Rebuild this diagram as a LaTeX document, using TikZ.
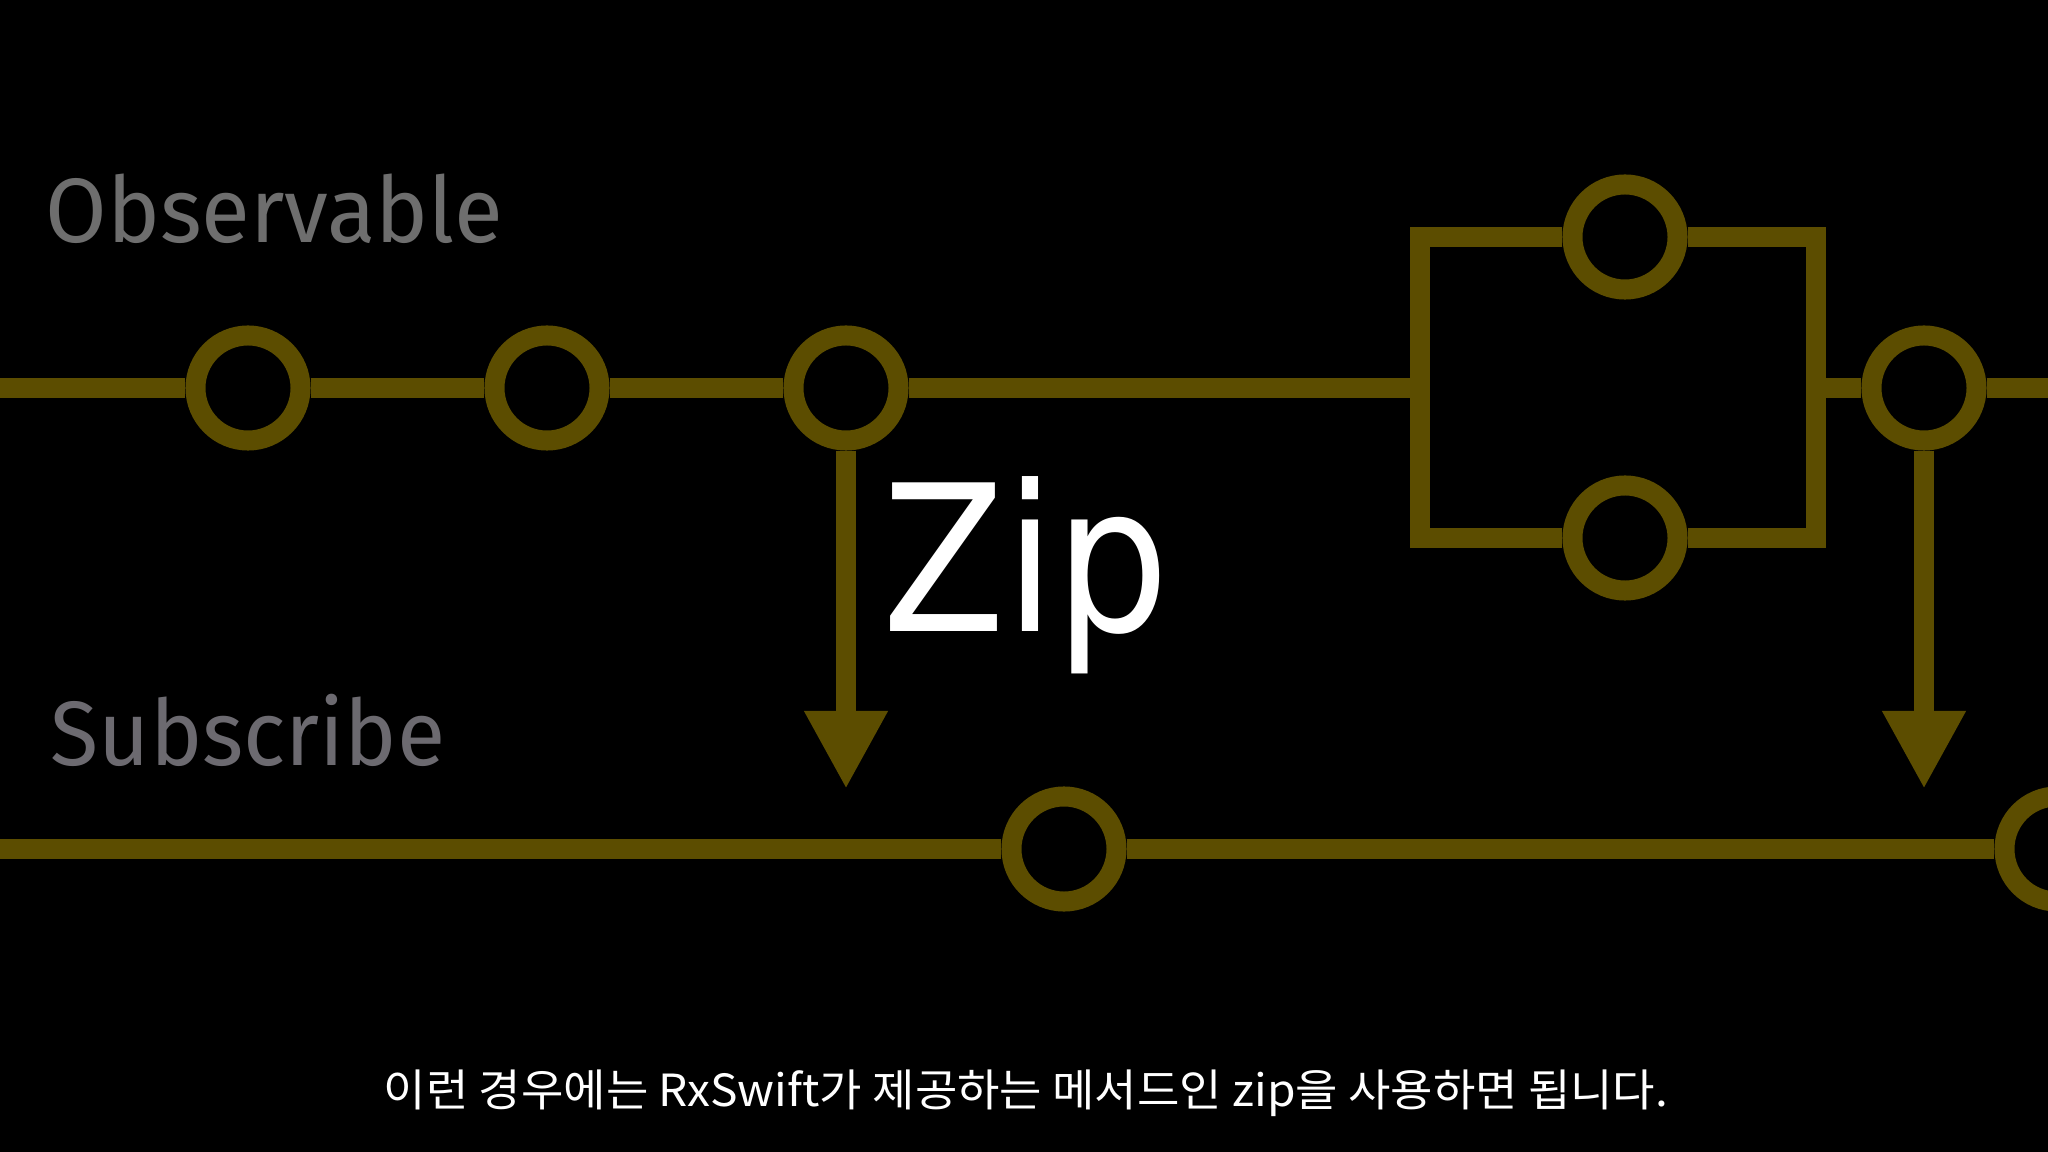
\documentclass[tikz,border=0pt]{standalone}
\usepackage{fontspec}
\usetikzlibrary{arrows.meta}
\newfontfamily\labfont{Fira Sans}
\newfontfamily\zipfont{DejaVu Sans}
\newfontfamily\krfont{Noto Sans CJK KR}
\definecolor{lineol}{RGB}{92,77,0}
\definecolor{obsgray}{RGB}{110,110,110}
\definecolor{subgray}{RGB}{108,106,112}
\begin{document}
\begin{tikzpicture}[x=0.01cm,y=-0.01cm,
  ev/.style={circle,draw=lineol,line width=0.2cm,fill=black,minimum size=1.05cm,inner sep=0pt},
  ln/.style={draw=lineol,line width=0.2cm,line join=miter},
  arr/.style={ln,-{Triangle[width=0.78cm,length=0.78cm]}},
  lbl/.style={anchor=base west,inner sep=0pt,font=\labfont\fontsize{26}{28}\selectfont}]
\useasboundingbox (0,0) rectangle (2048,1152);
\fill[black] (0,0) rectangle (2048,1152);
% events
\node[ev] (o1) at (248,388) {};
\node[ev] (o2) at (547,388) {};
\node[ev] (o3) at (846,388) {};
\node[ev] (o4) at (1924,388) {};
\node[ev] (b1) at (1625,237) {};
\node[ev] (b2) at (1625,538) {};
\node[ev] (s1) at (1064,849) {};
\node[ev] (s2) at (2057,849) {};
% coordinates
\coordinate (L1) at (0,388);
\coordinate (R1) at (2048,388);
\coordinate (L2) at (0,849);
\coordinate (boxL) at (1420,388);
\coordinate (boxR) at (1816,388);
\coordinate (tl) at (1420,237);
\coordinate (tr) at (1816,237);
\coordinate (bl) at (1420,538);
\coordinate (br) at (1816,538);
\coordinate (t1) at (846,789);
\coordinate (t2) at (1924,789);
% connectors
\draw[ln] (L1) -- (o1) -- (o2) -- (o3) -- (boxL);
\draw[ln] (boxR) -- (o4) -- (R1);
\draw[ln] (b1) -- (tl) -- (bl) -- (b2);
\draw[ln] (b1) -- (tr) -- (br) -- (b2);
\draw[arr] (o3) -- (t1);
\draw[arr] (o4) -- (t2);
\draw[ln] (L2) -- (s1) -- (s2);
% texts
\node[lbl,text=obsgray] (obs) at (45,243) {\scalebox{0.975}[1]{Observable}};
\node[lbl,text=subgray] (sub) at (50,765) {\scalebox{0.965}[1]{Subscribe}};
\node[anchor=base west,inner sep=0pt,text=white,font=\zipfont\fontsize{58}{60}\selectfont] (zip) at (882,632) {\scalebox{0.88}[1]{Zip}};
\node[anchor=base,inner sep=0pt,text=white,font=\krfont\fontsize{12.6}{14}\selectfont] (cap) at (1026,1106) {\scalebox{1.04}[1]{이런 경우에는 RxSwift가 제공하는 메서드인 zip을 사용하면 됩니다.}};
\end{tikzpicture}
\end{document}
